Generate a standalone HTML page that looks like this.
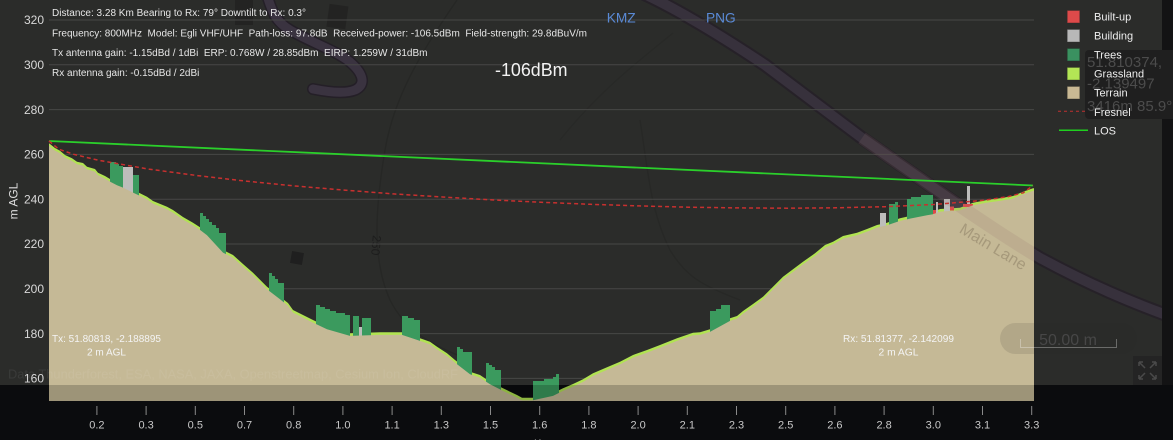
<!DOCTYPE html>
<html><head><meta charset="utf-8"><style>
html,body{margin:0;padding:0;background:#0b0c0e;width:1173px;height:440px;overflow:hidden}
svg{display:block}
text{font-family:"Liberation Sans",Arial,sans-serif}
</style></head><body>
<svg width="1173" height="440" viewBox="0 0 1173 440" xmlns="http://www.w3.org/2000/svg">
<defs>
<clipPath id="plot"><rect x="49" y="0" width="985" height="401"/></clipPath>
<clipPath id="mapclip"><rect x="0" y="0" width="1162" height="385"/></clipPath>
</defs>
<rect width="1173" height="440" fill="#0b0c0e"/>
<rect width="1162" height="385" fill="#2b2c2a"/>
<rect x="1162" width="11" height="385" fill="#131314"/>

<!-- map features -->
<g clip-path="url(#mapclip)">
  <path d="M457,0 C430,40 395,90 385,150 C375,210 372,260 390,300 C405,330 430,345 470,360" fill="none" stroke="#262725" stroke-width="1.3"/>
  <path d="M640,120 C648,170 650,210 670,250 C685,275 700,285 740,300" fill="none" stroke="#272826" stroke-width="1.3"/>
  <path d="M673,33 C640,60 600,90 560,140" fill="none" stroke="#282927" stroke-width="1.2"/>
  <rect x="235" y="-2" width="18" height="27" fill="#232322"/>
  <rect x="328" y="5" width="19" height="23" fill="#232322" transform="rotate(8 337 16)"/>
  <path d="M267,-5 C272,12 276,22 290,30 C310,42 335,50 350,62 C364,74 366,85 355,90 C345,94 328,92 313,89" fill="none" stroke="#241f27" stroke-width="12" stroke-linecap="round"/>
  <path d="M267,-5 C272,12 276,22 290,30 C310,42 335,50 350,62 C364,74 366,85 355,90 C345,94 328,92 313,89" fill="none" stroke="#3a3340" stroke-width="9" stroke-linecap="round"/>
  <path d="M640,-8 C675,8 720,35 765,65 L862,138 C925,182 990,228 1040,258 C1090,285 1130,302 1180,320" fill="none" stroke="#262128" stroke-width="14"/>
  <path d="M640,-8 C675,8 720,35 765,65 L862,138 C925,182 990,228 1040,258 C1090,285 1130,302 1180,320" fill="none" stroke="#37313c" stroke-width="10"/>
  <rect x="291" y="252" width="12" height="12" fill="#1f1f1f" transform="rotate(10 297 258)"/>
  <text x="372" y="245" font-size="12" fill="#1d1d1d" transform="rotate(95 372 245)" text-anchor="middle">250</text>
</g>

<!-- gridlines -->
<g stroke="#474746" stroke-width="1">
  <line x1="49" y1="20" x2="1034" y2="20"/>
  <line x1="49" y1="64.8" x2="1034" y2="64.8"/>
  <line x1="49" y1="109.6" x2="1034" y2="109.6"/>
  <line x1="49" y1="154.4" x2="1034" y2="154.4"/>
  <line x1="49" y1="199.2" x2="1034" y2="199.2"/>
  <line x1="49" y1="244" x2="1034" y2="244"/>
  <line x1="49" y1="288.8" x2="1034" y2="288.8"/>
  <line x1="49" y1="333.6" x2="1034" y2="333.6"/>
  <line x1="49" y1="378.4" x2="1034" y2="378.4"/>
</g>

<!-- y labels -->
<g font-size="12" fill="#d8d8d8" text-anchor="end">
  <text x="44" y="24.2">320</text>
  <text x="44" y="69">300</text>
  <text x="44" y="113.8">280</text>
  <text x="44" y="158.6">260</text>
  <text x="44" y="203.4">240</text>
  <text x="44" y="248.2">220</text>
  <text x="44" y="293">200</text>
  <text x="44" y="337.8">180</text>
  <text x="44" y="382.6">160</text>
</g>
<text x="0" y="0" font-size="12" fill="#dddddd" text-anchor="middle" transform="translate(17.5,201) rotate(-90)">m AGL</text>

<!-- chart -->
<g clip-path="url(#plot)">
  <!-- grass layer -->
  <polygon fill="#b1e352" points="49,401 49,143.3 55,148 60,150.7 65,155 72,158.3 77,161.7 83,163 87,166.7 95,169 98,172.7 105,176 110,179 117,182.7 123,185 133,190 140,193.3 147,196.7 153,201 167,206.7 173,210 183,217 193,222.7 200,227.3 207,232.7 223,250 233,255 243,264 253,272.7 267,286.7 280,296.7 288,303 293,310 303,315 313,320 327,326.7 350,333.3 380,332.3 402,332.3 420,338.3 430,341.7 437,346.7 447,353.3 455,360 470,371.7 480,375 490,381.7 503,388.3 517,395 522,397.7 533,397.7 553,393.3 563,388.3 573,384 583,379.3 593,373.3 607,367.3 620,361.7 633,355 647,350 660,345 677,338.3 693,332.7 700,332.3 710,329.3 730,318.3 737,316 743,311 753,304 763,296.7 773,286.7 783,276.7 793,269.3 803,261.7 815,253.3 825,245 833,241.7 843,236 857,232.7 867,229 877,225 887,222.7 900,218.3 910,216 927,212.7 933,211.7 940,209 960,207.7 973,202.7 987,200 1000,198.3 1013,196 1023,191.7 1033,188.3 1034,188.3 1034,401"/>
  <!-- trees -->
  <g fill="#3b9a5e">
    <rect x="110" y="162" width="6" height="240"/>
    <rect x="116" y="164" width="3" height="240"/>
    <rect x="119" y="166" width="4" height="240"/>
    <rect x="133" y="175" width="6" height="240"/>
    <rect x="200" y="213" width="3" height="200"/>
    <rect x="203" y="216" width="3" height="200"/>
    <rect x="206" y="219" width="3" height="200"/>
    <rect x="209" y="222" width="3" height="200"/>
    <rect x="212" y="225" width="4" height="200"/>
    <rect x="216" y="228" width="3" height="200"/>
    <rect x="219" y="233" width="7" height="200"/>
    <rect x="269" y="273" width="3" height="150"/>
    <rect x="272" y="276" width="3" height="150"/>
    <rect x="275" y="279" width="3" height="150"/>
    <rect x="278" y="283" width="6" height="150"/>
    <rect x="316" y="305" width="4" height="100"/>
    <rect x="320" y="307" width="5" height="100"/>
    <rect x="325" y="309" width="5" height="100"/>
    <rect x="330" y="311" width="6" height="100"/>
    <rect x="336" y="313" width="9" height="100"/>
    <rect x="345" y="315" width="5" height="100"/>
    <rect x="353" y="316" width="6" height="100"/>
    <rect x="362" y="318" width="9" height="100"/>
    <rect x="402" y="316" width="6" height="100"/>
    <rect x="408" y="318" width="6" height="100"/>
    <rect x="414" y="320" width="6" height="100"/>
    <rect x="457" y="347" width="3" height="80"/>
    <rect x="460" y="349" width="3" height="80"/>
    <rect x="463" y="352" width="9" height="80"/>
    <rect x="486" y="363" width="3" height="60"/>
    <rect x="489" y="365" width="3" height="60"/>
    <rect x="492" y="367" width="3" height="60"/>
    <rect x="495" y="370" width="6" height="60"/>
    <rect x="533" y="381" width="11" height="40"/>
    <rect x="544" y="379" width="9" height="40"/>
    <rect x="553" y="377" width="3" height="40"/>
    <rect x="556" y="374" width="3" height="40"/>
    <rect x="710" y="311" width="6" height="100"/>
    <rect x="716" y="309" width="5" height="100"/>
    <rect x="721" y="305" width="9" height="100"/>
    <rect x="889" y="204" width="6" height="200"/>
    <rect x="895" y="202" width="3" height="200"/>
    <rect x="907" y="199" width="4" height="200"/>
    <rect x="911" y="197" width="10" height="200"/>
    <rect x="921" y="195" width="12" height="200"/>
  </g>
  <!-- buildings -->
  <g fill="#bdbdbb">
    <rect x="123" y="167" width="10" height="240"/>
    <rect x="359" y="327" width="3" height="100"/>
    <rect x="880" y="213" width="6" height="200"/>
    <rect x="936" y="202" width="2" height="200"/>
    <rect x="944" y="199" width="6" height="200"/>
    <rect x="967" y="186" width="3" height="200"/>
  </g>
  <!-- built-up -->
  <g fill="#e04848">
    <rect x="933" y="210" width="3" height="4"/>
    <rect x="950" y="206.5" width="4" height="4"/>
    <rect x="963" y="204" width="10" height="3"/>
  </g>
  <!-- terrain -->
  <polygon fill="#c5b996" transform="translate(0,2.6)" points="49,401 49,143.3 55,148 60,150.7 65,155 72,158.3 77,161.7 83,163 87,166.7 95,169 98,172.7 105,176 110,179 117,182.7 123,185 133,190 140,193.3 147,196.7 153,201 167,206.7 173,210 183,217 193,222.7 200,227.3 207,232.7 223,250 233,255 243,264 253,272.7 267,286.7 280,296.7 288,303 293,310 303,315 313,320 327,326.7 350,333.3 380,332.3 402,332.3 420,338.3 430,341.7 437,346.7 447,353.3 455,360 470,371.7 480,375 490,381.7 503,388.3 517,395 522,397.7 533,397.7 553,393.3 563,388.3 573,384 583,379.3 593,373.3 607,367.3 620,361.7 633,355 647,350 660,345 677,338.3 693,332.7 700,332.3 710,329.3 730,318.3 737,316 743,311 753,304 763,296.7 773,286.7 783,276.7 793,269.3 803,261.7 815,253.3 825,245 833,241.7 843,236 857,232.7 867,229 877,225 887,222.7 900,218.3 910,216 927,212.7 933,211.7 940,209 960,207.7 973,202.7 987,200 1000,198.3 1013,196 1023,191.7 1033,188.3 1034,188.3 1034,401"/>
  <!-- road visible through terrain -->
  <path d="M862,138 C925,182 990,228 1040,258" fill="none" stroke="rgba(150,110,110,0.16)" stroke-width="13"/>
  <text x="993" y="252" font-size="16" fill="rgba(110,95,75,0.35)" text-anchor="middle" transform="rotate(31 993 247)">Main Lane</text>
  <!-- lower dark band -->
  <rect x="49" y="385" width="985" height="16" fill="rgba(0,0,0,0.2)"/>
</g>

<!-- attribution -->
<text x="8" y="378.5" font-size="13" fill="rgba(255,255,255,0.07)" textLength="450" lengthAdjust="spacingAndGlyphs">Data Thunderforest, ESA, NASA, JAXA, Openstreetmap, Cesium Ion, CloudRF</text>

<!-- LOS -->
<line x1="49" y1="141" x2="1033" y2="185.5" stroke="#2bcf2b" stroke-width="1.8"/>
<!-- Fresnel -->
<polyline fill="none" stroke="#c8302f" stroke-width="1.5" stroke-dasharray="4 3" points="49,141 58.8,149.2 73.6,154.3 98.2,160.2 147.4,168.9 196.6,175.5 245.8,181.1 295,186 344.2,190.1 393.4,193.9 442.6,197 491.8,199.9 541,202.25 590.2,204.3 639.4,205.9 688.6,207.2 737.8,207.9 787,208.2 836.2,207.8 885.4,206.7 934.6,204.45 983.8,200.3 1008.4,196.6 1023.2,192.8 1033,185.5"/>

<!-- x ticks -->
<g stroke="#8a8a8a" stroke-width="1">
  <line x1="96.9" y1="406" x2="96.9" y2="415"/>
  <line x1="146.1" y1="406" x2="146.1" y2="415"/>
  <line x1="195.3" y1="406" x2="195.3" y2="415"/>
  <line x1="244.5" y1="406" x2="244.5" y2="415"/>
  <line x1="293.7" y1="406" x2="293.7" y2="415"/>
  <line x1="342.9" y1="406" x2="342.9" y2="415"/>
  <line x1="392.1" y1="406" x2="392.1" y2="415"/>
  <line x1="441.3" y1="406" x2="441.3" y2="415"/>
  <line x1="490.5" y1="406" x2="490.5" y2="415"/>
  <line x1="539.7" y1="406" x2="539.7" y2="415"/>
  <line x1="588.9" y1="406" x2="588.9" y2="415"/>
  <line x1="638.1" y1="406" x2="638.1" y2="415"/>
  <line x1="687.3" y1="406" x2="687.3" y2="415"/>
  <line x1="736.5" y1="406" x2="736.5" y2="415"/>
  <line x1="785.7" y1="406" x2="785.7" y2="415"/>
  <line x1="834.9" y1="406" x2="834.9" y2="415"/>
  <line x1="884.1" y1="406" x2="884.1" y2="415"/>
  <line x1="933.3" y1="406" x2="933.3" y2="415"/>
  <line x1="982.5" y1="406" x2="982.5" y2="415"/>
  <line x1="1031.7" y1="406" x2="1031.7" y2="415"/>
</g>
<g font-size="11" fill="#c8c8c8" text-anchor="middle">
  <text x="96.9" y="428.5">0.2</text>
  <text x="146.1" y="428.5">0.3</text>
  <text x="195.3" y="428.5">0.5</text>
  <text x="244.5" y="428.5">0.7</text>
  <text x="293.7" y="428.5">0.8</text>
  <text x="342.9" y="428.5">1.0</text>
  <text x="392.1" y="428.5">1.1</text>
  <text x="441.3" y="428.5">1.3</text>
  <text x="490.5" y="428.5">1.5</text>
  <text x="539.7" y="428.5">1.6</text>
  <text x="588.9" y="428.5">1.8</text>
  <text x="638.1" y="428.5">2.0</text>
  <text x="687.3" y="428.5">2.1</text>
  <text x="736.5" y="428.5">2.3</text>
  <text x="785.7" y="428.5">2.5</text>
  <text x="834.9" y="428.5">2.6</text>
  <text x="884.1" y="428.5">2.8</text>
  <text x="933.3" y="428.5">3.0</text>
  <text x="982.5" y="428.5">3.1</text>
  <text x="1031.7" y="428.5">3.3</text>
</g>
<text x="534" y="447" font-size="11" fill="#c8c8c8">Km</text>

<!-- info text -->
<g font-size="10" fill="#e6e6e6">
  <text x="52" y="16.2" textLength="254" lengthAdjust="spacingAndGlyphs">Distance: 3.28 Km Bearing to Rx: 79° Downtilt to Rx: 0.3°</text>
  <text x="52" y="36.5" textLength="535" lengthAdjust="spacingAndGlyphs" xml:space="preserve">Frequency: 800MHz  Model: Egli VHF/UHF  Path-loss: 97.8dB  Received-power: -106.5dBm  Field-strength: 29.8dBuV/m</text>
  <text x="52" y="56.2" textLength="375.5" lengthAdjust="spacingAndGlyphs" xml:space="preserve">Tx antenna gain: -1.15dBd / 1dBi  ERP: 0.768W / 28.85dBm  EIRP: 1.259W / 31dBm</text>
  <text x="52" y="75.8" textLength="147.4" lengthAdjust="spacingAndGlyphs">Rx antenna gain: -0.15dBd / 2dBi</text>
</g>
<text x="495" y="76" font-size="18" fill="#f2f2f2" textLength="72.5" lengthAdjust="spacingAndGlyphs">-106dBm</text>
<text x="606.7" y="22.3" font-size="14" fill="#5a8ad6" textLength="29" lengthAdjust="spacingAndGlyphs">KMZ</text>
<text x="706" y="22.3" font-size="14" fill="#5a8ad6" textLength="29.7" lengthAdjust="spacingAndGlyphs">PNG</text>

<!-- Tx / Rx labels -->
<g font-size="10" fill="#f4f4f4">
  <text x="52" y="341.8" textLength="109" lengthAdjust="spacingAndGlyphs">Tx: 51.80818, -2.188895</text>
  <text x="87" y="355.5" textLength="39" lengthAdjust="spacingAndGlyphs">2 m AGL</text>
  <text x="843" y="341.8" textLength="111" lengthAdjust="spacingAndGlyphs">Rx: 51.81377, -2.142099</text>
  <text x="878.5" y="355.5" textLength="40" lengthAdjust="spacingAndGlyphs">2 m AGL</text>
</g>

<!-- scale control -->
<rect x="1000" y="323" width="137" height="31" rx="15.5" fill="rgba(40,40,40,0.12)"/>
<text x="1068" y="345" font-size="16" fill="#474747" text-anchor="middle">50.00 m</text>
<polyline points="1020.5,339 1020.5,347.5 1116.5,347.5 1116.5,339" fill="none" stroke="rgba(255,255,255,0.3)" stroke-width="1"/>
<!-- fullscreen -->
<rect x="1133" y="356" width="29" height="29" fill="#242424"/>
<g stroke="#4a4a4a" stroke-width="1.5" fill="none">
  <path d="M1139,362 L1145,368 M1139,362 L1139,366 M1139,362 L1143,362"/>
  <path d="M1156,362 L1150,368 M1156,362 L1156,366 M1156,362 L1152,362"/>
  <path d="M1139,379 L1145,373 M1139,379 L1139,375 M1139,379 L1143,379"/>
  <path d="M1156,379 L1150,373 M1156,379 L1156,375 M1156,379 L1152,379"/>
</g>

<!-- popup -->
<rect x="1085" y="50" width="92" height="69" rx="4" fill="#1f1f1f"/>
<g font-size="15" fill="#4c4c4c">
  <text x="1087" y="67">51.810374,</text>
  <text x="1087" y="88.5">-2.139497</text>
  <text x="1087" y="111">3416m 85.9°</text>
</g>

<!-- legend -->
<rect x="1067.5" y="10.7" width="12" height="12" fill="#dd4a4a" stroke="#a03a3a" stroke-width="0.5"/>
<rect x="1067.5" y="29.7" width="12" height="12" fill="#b8b8b8" stroke="#8a8a8a" stroke-width="0.5"/>
<rect x="1067.5" y="48.7" width="12" height="12" fill="#3a9160" stroke="#2a6a45" stroke-width="0.5"/>
<rect x="1067.5" y="67.7" width="12" height="12" fill="#b3e655" stroke="#86ad40" stroke-width="0.5"/>
<rect x="1067.5" y="86.7" width="12" height="12" fill="#c9b994" stroke="#968a6e" stroke-width="0.5"/>
<line x1="1058" y1="111.3" x2="1088" y2="111.3" stroke="#c03030" stroke-width="1" stroke-dasharray="3 3"/>
<line x1="1059" y1="130.3" x2="1088" y2="130.3" stroke="#1fd01f" stroke-width="1.5"/>
<g font-size="11" fill="#eeeeee">
  <text x="1094" y="20.7">Built-up</text>
  <text x="1094" y="39.7">Building</text>
  <text x="1094" y="58.7">Trees</text>
  <text x="1094" y="77.7">Grassland</text>
  <text x="1094" y="96.7">Terrain</text>
  <text x="1094" y="116">Fresnel</text>
  <text x="1094" y="134.5">LOS</text>
</g>
</svg>
</body></html>
